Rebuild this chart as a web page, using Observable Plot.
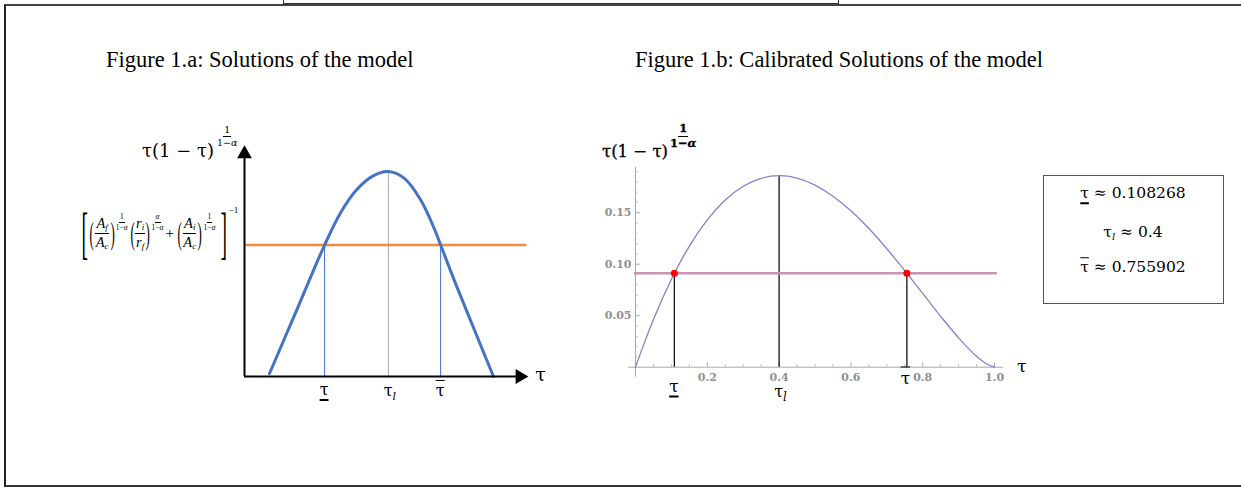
<!DOCTYPE html>
<html><head><meta charset="utf-8">
<script src="https://cdn.jsdelivr.net/npm/d3@7"></script>
<script src="https://cdn.jsdelivr.net/npm/@observablehq/plot@0.6"></script>
<style>
body{margin:0;background:#fff;}
#wrap{position:relative;width:1241px;height:488px;overflow:hidden;background:#fff;font-family:"Liberation Serif","Times New Roman",serif;color:#000;}
#wrap svg{position:absolute;left:0;top:0;}
.abs{position:absolute;white-space:nowrap;line-height:1;}
.c{transform:translate(-50%,-50%);}
.fr{display:inline-flex;flex-direction:column;align-items:center;line-height:1;}
.fr > span{display:block;padding:0 1px;}
.fr > span:first-child{border-bottom:1px solid #000;padding-bottom:1px;}
.fr > span:last-child{padding-top:1px;}
.row{display:flex;align-items:center;}
.par{display:inline-block;transform:scale(0.8,2.0);}
.ul{text-decoration:underline;text-decoration-thickness:1.6px;text-underline-offset:4px;}
.ol{text-decoration:overline;text-decoration-thickness:1.4px;}
</style></head>
<body><div id="wrap"></div>
<script>
// ---------- Figure 1.a (schematic) ----------
const sketchTau = [0.89, 1.85, 2.85, 3.42, 3.99, 4.56, 5.12, 5.69, 6.26, 6.76, 6.98, 7.54, 8.22, 8.86];
const sketchVal = [0.13, 2.88, 5.74, 7.15, 8.15, 8.75, 8.95, 8.65, 7.73, 6.44, 5.74, 3.97, 1.92, 0];
const sketchLevel = 5.74;
const sketchRoots = [2.85, 6.98];
const sketchPeak = {tau: 5.12, val: 8.95};

// ---------- Figure 1.b (calibrated) ----------
const calTau = [0, 0.025, 0.05, 0.1, 0.15, 0.2, 0.25, 0.3, 0.35, 0.4, 0.45, 0.5, 0.55, 0.6, 0.65, 0.7, 0.75, 0.8, 0.85, 0.9, 0.95, 0.975, 1.0];
const calVal = [0, 0.0241, 0.0463, 0.0854, 0.1176, 0.1431, 0.1624, 0.1757, 0.1834, 0.1859, 0.1836, 0.1768, 0.1660, 0.1518, 0.1346, 0.1150, 0.0938, 0.0716, 0.0494, 0.0285, 0.0106, 0.0039, 0];
const calLevel = 0.0912;
const calSolutions = [0.108268, 0.4, 0.755902];
const calSolutionVals = [0.0912, 0.1859, 0.0912];
const xMajor = [0.2, 0.4, 0.6, 0.8, 1.0];
const xMajorLabels = ["0.2", "0.4", "0.6", "0.8", "1.0"];
const xMinor = [0.05, 0.1, 0.15, 0.25, 0.3, 0.35, 0.45, 0.5, 0.55, 0.65, 0.7, 0.75, 0.85, 0.9, 0.95];
const yMajor = [0.05, 0.10, 0.15];
const yMajorLabels = ["0.05", "0.10", "0.15"];
const yMinor = [0.01, 0.02, 0.03, 0.04, 0.06, 0.07, 0.08, 0.09, 0.11, 0.12, 0.13, 0.14, 0.16, 0.17, 0.18, 0.19];
const boxLines = ["0.108268", "0.4", "0.755902"];

const wrap = document.getElementById("wrap");
const W = 1241, H = 488;

const sketchData = sketchTau.map((t, i) => ({t, v: sketchVal[i]}));
const chartA = Plot.plot({
  width: W, height: H, margin: 0,
  style: {background: "transparent", overflow: "visible"},
  x: {domain: [0, 10], range: [244, 525], axis: null},
  y: {domain: [0, 10], range: [376, 147], axis: null},
  marks: [
    Plot.ruleX(sketchRoots, {x: d => d, y1: 0, y2: sketchLevel, stroke: "#4472c4", strokeWidth: 1}),
    Plot.ruleX([sketchPeak], {x: "tau", y1: 0, y2: "val", stroke: "#a6a6a6", strokeWidth: 1}),
    Plot.ruleY([sketchLevel], {x1: 0, x2: 10.05, stroke: "#f08a3c", strokeWidth: 2.5}),
    Plot.line(sketchData, {x: "t", y: "v", curve: "catmull-rom", stroke: "#4472c4", strokeWidth: 3}),
    Plot.ruleY([0], {x1: 0, x2: 9.75, stroke: "#000", strokeWidth: 2}),
    Plot.ruleX([0], {y1: 0, y2: 9.6, stroke: "#000", strokeWidth: 2}),
    Plot.dot([{x: 9.8, y: 0}], {x: "x", y: "y", symbol: "triangle", r: 5.5, fill: "#000", stroke: null, rotate: 90}),
    Plot.dot([{x: 0, y: 9.72}], {x: "x", y: "y", symbol: "triangle", r: 5.5, fill: "#000", stroke: null})
  ]
});
wrap.appendChild(chartA);

const calData = calTau.map((t, i) => ({t, v: calVal[i]}));
const solData = calSolutions.map((t, i) => ({t, v: calSolutionVals[i]}));
const chartB = Plot.plot({
  width: W, height: H, margin: 0,
  style: {background: "transparent", overflow: "visible"},
  x: {domain: [0, 1], range: [635, 994], axis: null},
  y: {domain: [0, 0.1], range: [366.7, 263.7], axis: null},
  marks: [
    Plot.ruleY([0], {x1: -0.02, x2: 1.025, stroke: "#a8a8a8", strokeWidth: 1}),
    Plot.ruleX([0], {y1: -0.0098, y2: 0.194, stroke: "#a8a8a8", strokeWidth: 1}),
    Plot.ruleX(xMajor, {x: d => d, y1: 0, y2: 0.0042, stroke: "#a8a8a8", strokeWidth: 1}),
    Plot.ruleX(xMinor, {x: d => d, y1: 0, y2: 0.0024, stroke: "#b8b8b8", strokeWidth: 1}),
    Plot.ruleY(yMajor, {y: d => d, x1: 0, x2: 0.013, stroke: "#a8a8a8", strokeWidth: 1}),
    Plot.ruleY(yMinor, {y: d => d, x1: 0, x2: 0.007, stroke: "#b8b8b8", strokeWidth: 1}),
    Plot.text(xMajor, {x: d => d, y: 0, text: (d, i) => xMajorLabels[i], dy: 10, fill: "#909090", fontSize: 11, fontWeight: "bold", fontFamily: "DejaVu Serif"}),
    Plot.text(yMajor, {x: 0, y: d => d, text: (d, i) => yMajorLabels[i], dx: -4, textAnchor: "end", fill: "#909090", fontSize: 11, fontWeight: "bold", fontFamily: "DejaVu Serif"}),
    Plot.ruleX(solData, {x: "t", y1: 0, y2: "v", stroke: "#111", strokeWidth: 1.3}),
    Plot.ruleY([calLevel], {x1: -0.003, x2: 1.008, stroke: "#cc93b0", strokeWidth: 2.6}),
    Plot.line(calData, {x: "t", y: "v", curve: "monotone-x", stroke: "#8282c8", strokeWidth: 1.3}),
    Plot.dot([solData[0], solData[2]], {x: "t", y: "v", r: 3.5, fill: "#ff0000", stroke: null})
  ]
});
wrap.appendChild(chartB);

// ---------- HTML text overlays ----------
function add(html, style, cls = "abs") {
  const d = document.createElement("div");
  d.className = cls;
  d.setAttribute("style", style);
  d.innerHTML = html;
  wrap.appendChild(d);
  return d;
}
// frame
add("", "left:4px;top:4px;width:1250px;height:479px;border-left:2px solid #222;border-top:2px solid #444;border-bottom:2px solid #333;");
add("", "left:283px;top:-4px;width:554px;height:6px;border:1.5px solid #333;");

// titles
add("Figure 1.a: Solutions of the model", "left:106px;top:49px;font-size:22.5px;");
add("Figure 1.b: Calibrated Solutions of the model", "left:635px;top:49px;font-size:22.5px;");

const fr = (n, d, fs, extra = "") => `<span class="fr" style="font-size:${fs}px;${extra}"><span>${n}</span><span>${d}</span></span>`;

// panel a y label
add(`<span>τ(1 − τ)</span><span style="position:relative;top:-13px;margin-left:2px">${fr("1", "1−<i>α</i>", 9.5)}</span>`,
  "left:142px;top:131px;font-size:18px;font-family:'DejaVu Serif',serif;display:flex;align-items:flex-end;");

// panel a formula
const sb = (s) => `<sub style='font-size:9px;vertical-align:-2px'>${s}</sub>`;
const fA = (a, b) => fr(`<i>${a}</i>`, `<i>${b}</i>`, 14.5);
const ex = (n) => `<span style="position:relative;top:-15px">${fr(n, "1−<i>α</i>", 7.5)}</span>`;
const P = (s) => `<span class="par" style="font-size:16px">${s}</span>`;
add(
  `<span style="display:inline-block;transform:scale(0.7,2.0);font-size:28px;">[</span>` +
  P("(") + fA("A" + sb("f"), "A" + sb("c")) + P(")") + ex("1") +
  `<span style="width:1px"></span>` +
  P("(") + fA("r" + sb("i"), "r" + sb("f")) + P(")") + ex("<i>α</i>") +
  `<span style="font-size:15px;margin:0 3px 0 1px">+</span>` +
  P("(") + fA("A" + sb("i"), "A" + sb("c")) + P(")") + ex("1") +
  `<span style="display:inline-block;transform:scale(0.7,2.0);font-size:28px;margin-left:3px">]</span>` +
  `<span style="font-size:9px;position:relative;top:-23px;">−1</span>`,
  "left:80px;top:216px;font-family:'Liberation Serif',serif;", "abs row");

// panel a axis labels
const ax = chartA.scale("x");
add("τ", `left:${ax.apply(10.55)}px;top:374px;font-size:19px;font-family:'DejaVu Serif',serif;`, "abs c");
add(`<span class="ul">τ</span>`, `left:${ax.apply(sketchRoots[0])}px;top:390px;font-size:16px;font-family:'DejaVu Serif',serif;`, "abs c");
add(`τ<i style="font-size:11px;position:relative;top:4px">l</i>`, `left:${ax.apply(sketchPeak.tau) + 2}px;top:391px;font-size:16px;font-family:'DejaVu Serif',serif;`, "abs c");
add(`<span class="ol">τ</span>`, `left:${ax.apply(sketchRoots[1])}px;top:391px;font-size:16px;font-family:'DejaVu Serif',serif;`, "abs c");

// panel b y label
add(`<span>τ(1 − τ)</span><span style="position:relative;top:-11px;margin-left:1px">${fr("1", "1−<i>α</i>", 11.5, "font-weight:bold;")}</span>`,
  "left:602px;top:130px;font-size:16.5px;font-family:'DejaVu Serif',serif;display:flex;align-items:flex-end;-webkit-text-stroke:0.3px #000;");

// panel b labels
const bx = chartB.scale("x");
add("τ", `left:${bx.apply(1.077)}px;top:366px;font-size:17px;font-family:'DejaVu Serif',serif;`, "abs c");
add(`<span class="ul">τ</span>`, `left:${bx.apply(calSolutions[0])}px;top:386px;font-size:17px;font-family:'DejaVu Serif',serif;`, "abs c");
add(`τ<i style="font-size:12px;position:relative;top:4px">l</i>`, `left:${bx.apply(calSolutions[1]) + 2}px;top:392px;font-size:16px;font-family:'DejaVu Serif',serif;line-height:0.8;`, "abs c");
add(`<span class="ol">τ</span>`, `left:${bx.apply(calSolutions[2]) - 1}px;top:378px;font-size:17px;font-family:'DejaVu Serif',serif;`, "abs c");

// results box
add("", "left:1043px;top:175px;width:179px;height:127px;border:1.3px solid #555;");
add(`<span class="ul">τ</span> ≈ ${boxLines[0]}`, "left:1133px;top:194px;font-size:15.5px;font-family:'DejaVu Serif',serif;", "abs c");
add(`τ<i style="font-size:10px;position:relative;top:3px">l</i> ≈ ${boxLines[1]}`, "left:1133px;top:233px;font-size:15.5px;font-family:'DejaVu Serif',serif;", "abs c");
add(`<span class="ol">τ</span> ≈ ${boxLines[2]}`, "left:1133px;top:268px;font-size:15.5px;font-family:'DejaVu Serif',serif;", "abs c");
</script></body></html>
